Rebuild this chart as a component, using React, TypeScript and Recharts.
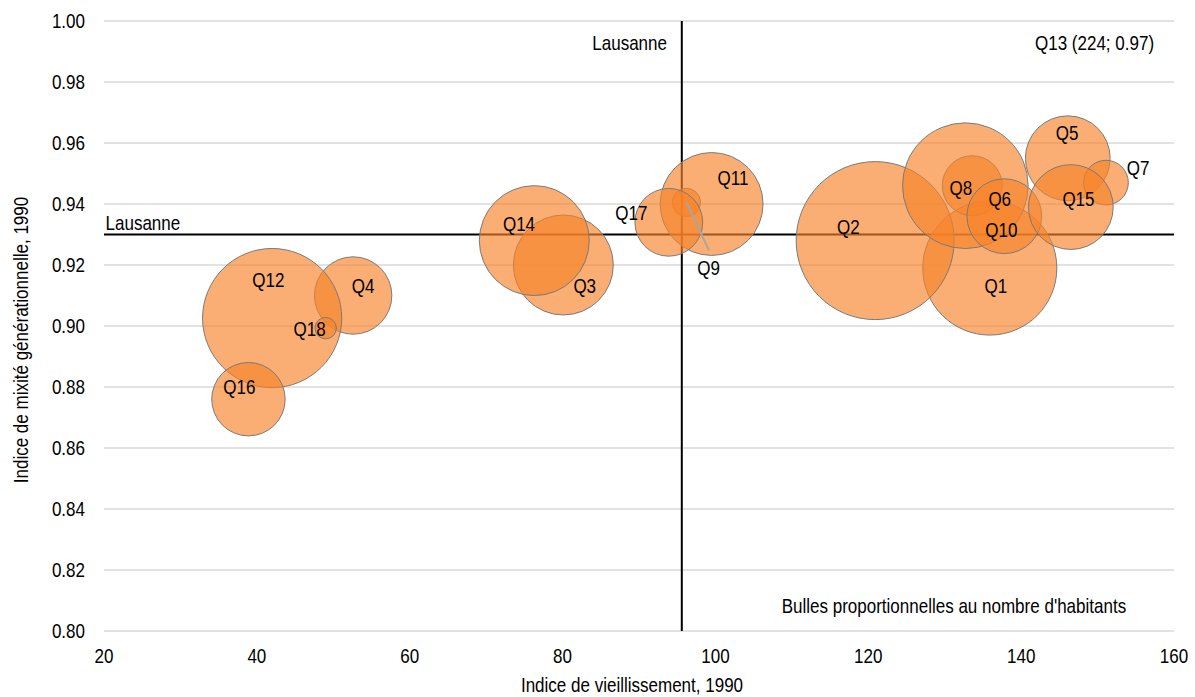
import React from 'react';
import { ScatterChart, Scatter, XAxis, YAxis, ZAxis, CartesianGrid, Label } from 'recharts';

// ---- Data ----
const quartiers = ['Q1', 'Q2', 'Q3', 'Q4', 'Q5', 'Q6', 'Q7', 'Q8', 'Q9', 'Q10', 'Q11', 'Q12', 'Q14', 'Q15', 'Q16', 'Q17', 'Q18'];
const indiceVieillissement = [135.9, 120.9, 80.1, 52.6, 146.1, 133.6, 151.1, 132.7, 96.2, 137.8, 99.5, 42.0, 76.3, 146.5, 38.9, 93.9, 49.0];
const indiceMixite = [0.919, 0.928, 0.920, 0.910, 0.955, 0.946, 0.947, 0.946, 0.9405, 0.936, 0.940, 0.9026, 0.928, 0.939, 0.876, 0.934, 0.8993];
const habitants = [9000, 12500, 5000, 3000, 3600, 1800, 1000, 7900, 400, 2800, 5300, 9700, 6050, 3600, 2700, 2300, 230];
// label anchor points (data units)
const labelVieillissement = [136.7, 117.4, 82.9, 53.9, 146.0, 137.2, 155.3, 132.1, 99.1, 137.4, 102.3, 41.5, 74.3, 147.5, 37.7, 89.0, 46.9];
const labelMixite = [0.9131, 0.9327, 0.9134, 0.9131, 0.9634, 0.9419, 0.9519, 0.9455, 0.9191, 0.9316, 0.9488, 0.9152, 0.9337, 0.9419, 0.8801, 0.9371, 0.8993];

const lausanneVieillissement = 95.6;
const lausanneMixite = 0.93;

// Q9 leader line end (data units)
const q9LeaderEnd = { x: 99.16, y: 0.9248 };

const xTicks = [20, 40, 60, 80, 100, 120, 140, 160];
const yTicks = [0.8, 0.82, 0.84, 0.86, 0.88, 0.9, 0.92, 0.94, 0.96, 0.98, 1.0];
const xDomain: [number, number] = [20, 160];
const yDomain: [number, number] = [0.8, 1.0];
const zMax = 12500;

const xTitle = 'Indice de vieillissement, 1990';
const yTitle = 'Indice de mixité générationnelle, 1990';

const annotations = [
  { x: 93.66, y: 0.993, text: 'Lausanne', anchor: 'end' },
  { x: 20.2, y: 0.934, text: 'Lausanne', anchor: 'start' },
  { x: 149.6, y: 0.993, text: 'Q13 (224; 0.97)', anchor: 'middle' },
  { x: 131.2, y: 0.8082, text: "Bulles proportionnelles au nombre d'habitants", anchor: 'middle' },
];

const bubbles = quartiers.map((q, i) => ({ name: q, x: indiceVieillissement[i], y: indiceMixite[i], z: habitants[i] }));
const bubbleLabels = quartiers.map((q, i) => ({ name: q, x: labelVieillissement[i], y: labelMixite[i] }));
const vLine = [{ x: lausanneVieillissement, y: yDomain[0] }, { x: lausanneVieillissement, y: yDomain[1] }];
const hLine = [{ x: xDomain[0], y: lausanneMixite }, { x: xDomain[1], y: lausanneMixite }];
const q9Bubble = bubbles.find((b) => b.name === 'Q9')!;
const leader = [{ x: q9Bubble.x, y: q9Bubble.y }, q9LeaderEnd];

const FONT = "'Liberation Sans', Arial, sans-serif";
const FS = 20.5;
const SX = 0.83; // narrow face emulation

const NarrowText = ({ x, y, anchor, dy, rotate, children }: any) => (
  <g transform={`translate(${x},${y})${rotate ? ` rotate(${rotate})` : ''} scale(${SX},1)`}>
    <text x={0} y={0} dy={dy} textAnchor={anchor} fontSize={FS} fontFamily={FONT} fill="#000">
      {children}
    </text>
  </g>
);

const Empty = () => <g />;

const LabelShape = (props: any) => {
  const { cx, cy, payload } = props;
  return (
    <NarrowText x={cx} y={cy} dy="0.36em" anchor="middle">
      {payload.name}
    </NarrowText>
  );
};

const AnnotationShape = (props: any) => {
  const { cx, cy, payload } = props;
  return (
    <NarrowText x={cx} y={cy} dy="0.36em" anchor={payload.anchor}>
      {payload.text}
    </NarrowText>
  );
};

const XTick = (props: any) => (
  <NarrowText x={props.x} y={props.y} dy="0.71em" anchor="middle">
    {props.payload.value}
  </NarrowText>
);

const YTick = (props: any) => (
  <NarrowText x={props.x} y={props.y} dy="0.36em" anchor="end">
    {Number(props.payload.value).toFixed(2)}
  </NarrowText>
);

const XTitle = (props: any) => {
  const vb = props.viewBox || { x: 104, y: 631, width: 1070, height: 66 };
  return (
    <NarrowText x={vb.x + vb.width / 2 - 7} y={vb.y + vb.height - 5} anchor="middle">
      {xTitle}
    </NarrowText>
  );
};

const YTitle = (props: any) => {
  const vb = props.viewBox || { x: 0, y: 21, width: 104, height: 610 };
  return (
    <NarrowText x={vb.x + 20.5} y={vb.y + vb.height / 2 + 14} dy="0.36em" rotate={-90} anchor="middle">
      {yTitle}
    </NarrowText>
  );
};

export default function App() {
  return (
    <div style={{ position: 'absolute', left: 0, top: 0 }}>
      <ScatterChart width={1195} height={697} margin={{ top: 21, right: 21, bottom: 0, left: 0 }}>
        <CartesianGrid vertical={false} stroke="#d9d9d9" strokeWidth={1.5} />
        <XAxis
          type="number"
          dataKey="x"
          domain={xDomain}
          ticks={xTicks}
          allowDataOverflow
          axisLine={false}
          tickLine={false}
          tickSize={0}
          tickMargin={17}
          height={66}
          tick={XTick}
        >
          <Label content={XTitle} />
        </XAxis>
        <YAxis
          type="number"
          dataKey="y"
          domain={yDomain}
          ticks={yTicks}
          allowDataOverflow
          axisLine={false}
          tickLine={false}
          tickSize={0}
          tickMargin={19}
          width={104}
          tick={YTick}
        >
          <Label content={YTitle} />
        </YAxis>
        <ZAxis type="number" dataKey="z" domain={[0, zMax]} range={[0, Math.PI * 79 * 79]} />
        <Scatter data={vLine} line={{ stroke: '#000', strokeWidth: 2 }} shape={Empty} isAnimationActive={false} />
        <Scatter data={hLine} line={{ stroke: '#000', strokeWidth: 2 }} shape={Empty} isAnimationActive={false} />
        <Scatter
          data={bubbles}
          fill="#F7822A"
          fillOpacity={0.65}
          stroke="#7a7a7a"
          strokeWidth={1}
          isAnimationActive={false}
        />
        <Scatter data={leader} line={{ stroke: '#a6a6a6', strokeWidth: 2 }} shape={Empty} isAnimationActive={false} />
        <Scatter data={bubbleLabels} shape={LabelShape} isAnimationActive={false} />
        <Scatter data={annotations} shape={AnnotationShape} isAnimationActive={false} />
      </ScatterChart>
    </div>
  );
}
